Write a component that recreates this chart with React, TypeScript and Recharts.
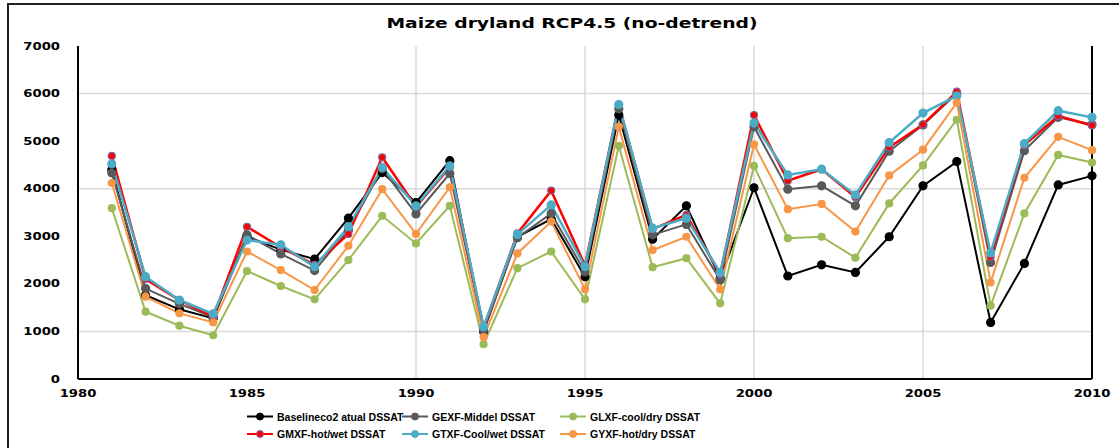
import { LineChart, Line, XAxis, YAxis, CartesianGrid, ReferenceLine } from 'recharts';

const years = [
  1981, 1982, 1983, 1984, 1985, 1986, 1987, 1988, 1989, 1990,
  1991, 1992, 1993, 1994, 1995, 1996, 1997, 1998, 1999, 2000,
  2001, 2002, 2003, 2004, 2005, 2006, 2007, 2008, 2009, 2010,
];

const baseline = [
  4400, 1760, 1465, 1275, 2990, 2720, 2520, 3380, 4340, 3710,
  4590, 1000, 2990, 3360, 2150, 5550, 2940, 3640, 2120, 4020,
  2165, 2400, 2240, 2990, 4060, 4570, 1190, 2430, 4080, 4270,
];
const gexf = [
  4330, 1900, 1580, 1300, 3030, 2630, 2280, 3130, 4420, 3470,
  4320, 1020, 2970, 3480, 2250, 5680, 3030, 3250, 2080, 5300,
  3990, 4060, 3640, 4790, 5340, 6000, 2450, 4800, 5500, 5350,
];
const glxf = [
  3590, 1415, 1120, 920, 2270, 1955, 1675, 2500, 3430, 2850,
  3640, 730, 2330, 2680, 1675, 4900, 2350, 2540, 1590, 4480,
  2960, 2990, 2550, 3690, 4490, 5450, 1540, 3480, 4710, 4550,
];
const gmxf = [
  4690, 2100, 1660, 1310, 3200, 2770, 2400, 3050, 4660, 3620,
  4450, 1080, 3060, 3960, 2390, 5770, 3150, 3450, 2200, 5550,
  4170, 4410, 3820, 4870, 5350, 6040, 2570, 4920, 5530, 5330,
];
const gtxf = [
  4520, 2150, 1660, 1370, 2920, 2820, 2360, 3200, 4450, 3640,
  4480, 1100, 3040, 3660, 2360, 5770, 3170, 3380, 2240, 5380,
  4290, 4410, 3870, 4970, 5590, 5950, 2650, 4950, 5640, 5500,
];
const gyxf = [
  4120, 1730, 1380, 1190, 2680, 2290, 1870, 2800, 3990, 3050,
  4030, 880, 2640, 3310, 1885, 5300, 2710, 2990, 1885, 4930,
  3570, 3680, 3100, 4280, 4820, 5810, 2030, 4230, 5090, 4810,
];

const xTicks = [1980, 1985, 1990, 1995, 2000, 2005, 2010];
const yTicks = [0, 1000, 2000, 3000, 4000, 5000, 6000, 7000];

const series = [
  { key: 'baseline', name: 'Baselineco2 atual DSSAT', values: baseline, color: '#000000', dotStroke: '#000000', width: 2, r: 4 },
  { key: 'gexf', name: 'GEXF-Middel DSSAT', values: gexf, color: '#595959', dotStroke: '#595959', width: 2, r: 4 },
  { key: 'glxf', name: 'GLXF-cool/dry DSSAT', values: glxf, color: '#9bbb59', dotStroke: '#9bbb59', width: 2, r: 3.5 },
  { key: 'gmxf', name: 'GMXF-hot/wet DSSAT', values: gmxf, color: '#ff0000', dotStroke: '#8064a2', width: 2.5, r: 3.5 },
  { key: 'gtxf', name: 'GTXF-Cool/wet DSSAT', values: gtxf, color: '#4bacc6', dotStroke: '#4bacc6', width: 2.5, r: 4 },
  { key: 'gyxf', name: 'GYXF-hot/dry DSSAT', values: gyxf, color: '#f79646', dotStroke: '#f79646', width: 2, r: 3.5 },
];

const data = years.map((year, i) => {
  const row: Record<string, number> = { year };
  series.forEach(s => { row[s.key] = s.values[i]; });
  return row;
});

// the picture is stretched sideways, so tick text is too
const YTick = ({ x, y, payload }: any) => (
  <text transform={`translate(${x},${y}) scale(1.32,1)`} textAnchor="end" dy={3.5}
    fontFamily="DejaVu Sans" fontWeight="bold" fontSize={10} fill="#000">
    {payload.value}
  </text>
);

const XTick = ({ x, y, payload }: any) => (
  <text transform={`translate(${x},${y}) scale(1.32,1)`} textAnchor="middle" dy={9}
    fontFamily="DejaVu Sans" fontWeight="bold" fontSize={10} fill="#000">
    {payload.value}
  </text>
);

const legendCols = [247, 402, 560];
const legendRows = [416.5, 434];

export default function App() {
  return (
    <div style={{ position: 'relative', width: 1119, height: 448, overflow: 'hidden', background: '#fff' }}>
      <style>{`body{margin:0}`}</style>
      <div style={{ position: 'absolute', left: 7, top: 3, width: 1200, height: 600, border: '2px solid #1e221e' }} />
      <div style={{ position: 'absolute', left: 0, top: 0 }}>
        <LineChart width={1119} height={448} data={data} margin={{ top: 46, right: 27, bottom: 39, left: 8 }}>
          <CartesianGrid stroke="#d9d9d9" strokeWidth={1.5}
            horizontalValues={[1000, 4000, 6000]} verticalValues={[1990, 1995, 2000, 2005]} />
          <XAxis dataKey="year" type="number" domain={[1980, 2010]} ticks={xTicks} height={30}
            axisLine={{ stroke: '#000', strokeWidth: 2 }} tickLine={false} tickSize={0} tickMargin={9}
            tick={<XTick />} interval={0} />
          <YAxis type="number" domain={[0, 7000]} ticks={yTicks} width={70}
            axisLine={{ stroke: '#000', strokeWidth: 2 }} tickLine={false} tickSize={0} tickMargin={18}
            tick={<YTick />} interval={0} />
          <ReferenceLine x={2010} stroke="#000" strokeWidth={2} />
          {series.map(s => (
            <Line key={s.key} dataKey={s.key} name={s.name} stroke={s.color} strokeWidth={s.width}
              dot={{ r: s.r, fill: s.color, stroke: s.dotStroke, strokeWidth: 1.2 }}
              activeDot={false} isAnimationActive={false} />
          ))}
        </LineChart>
      </div>
      <svg width={1119} height={448} style={{ position: 'absolute', left: 0, top: 0, pointerEvents: 'none' }}>
        <text x={572} y={28} textAnchor="middle" fontFamily="DejaVu Sans" fontWeight="bold" fontSize={14}
          textLength={371} lengthAdjust="spacingAndGlyphs" fill="#000">
          Maize dryland RCP4.5 (no-detrend)
        </text>
        {series.map((s, i) => {
          const x = legendCols[i % 3];
          const y = legendRows[Math.floor(i / 3)];
          return (
            <g key={s.key}>
              <line x1={x} x2={x + 26} y1={y} y2={y} stroke={s.color} strokeWidth={2} />
              <circle cx={x + 13} cy={y} r={3.5} fill={s.color} stroke={s.dotStroke} strokeWidth={1} />
              <text x={x + 30} y={y + 4} fontFamily="Liberation Sans" fontWeight="bold" fontSize={10.5} fill="#000">
                {s.name}
              </text>
            </g>
          );
        })}
      </svg>
    </div>
  );
}
